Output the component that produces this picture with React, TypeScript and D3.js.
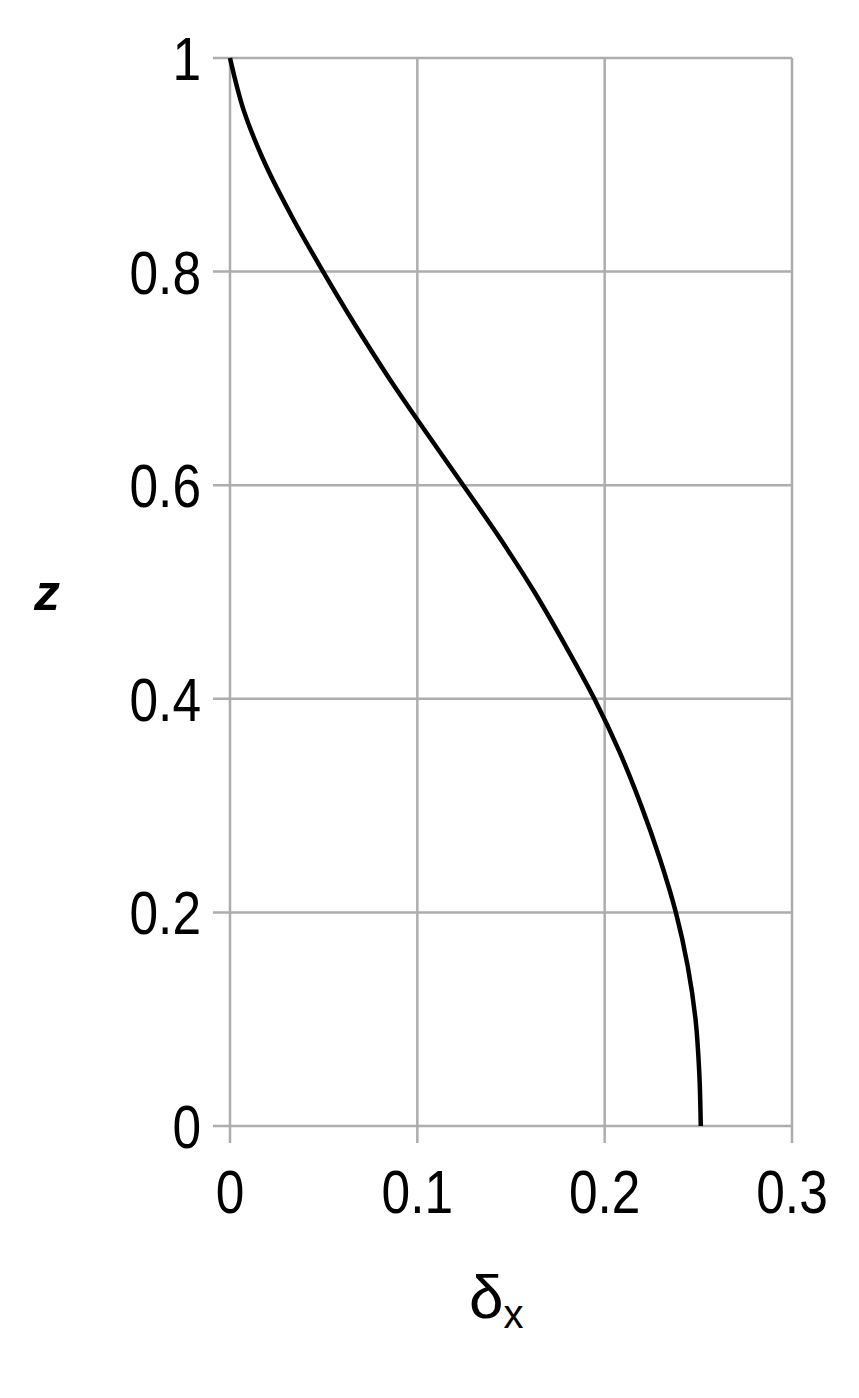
import React, { useEffect, useRef } from 'react'
import * as d3 from 'd3'

// z (height) and delta_x
const zValues = [1, 0.95, 0.9, 0.85, 0.8, 0.75, 0.7, 0.65, 0.6, 0.55, 0.5, 0.45, 0.4, 0.35, 0.3, 0.25, 0.2, 0.15, 0.1, 0.05, 0]
const deltaValues = [0, 0.0075, 0.019, 0.0335, 0.0497, 0.0668, 0.085, 0.1045, 0.1245, 0.1442, 0.1625, 0.179, 0.1945, 0.208, 0.2195, 0.2295, 0.238, 0.2443, 0.2485, 0.2505, 0.2513]

const xTicks = [0, 0.1, 0.2, 0.3]
const yTicks = [0, 0.2, 0.4, 0.6, 0.8, 1]
const xTickLabels = ['0', '0.1', '0.2', '0.3']
const yTickLabels = ['0', '0.2', '0.4', '0.6', '0.8', '1']

const width = 859
const height = 1398
const left = 230
const right = 792
const top = 58
const bottom = 1126
const tickLen = 17
const labelFont = '"Liberation Sans", Arial, sans-serif'
const squeeze = 0.83 // tick labels are a narrow face in the original

function drawChart(svgEl: SVGSVGElement) {
    const svg = d3.select(svgEl)
    svg.selectAll('*').remove()

    const x = d3.scaleLinear().domain([0, 0.3]).range([left, right])
    const y = d3.scaleLinear().domain([0, 1]).range([bottom, top])

    const grid = svg.append('g')
        .attr('stroke', '#adadad')
        .attr('stroke-width', 2.5)

    // vertical grid + ticks below
    grid.selectAll('line.v')
        .data(xTicks)
        .enter()
        .append('line')
        .attr('x1', d => x(d))
        .attr('x2', d => x(d))
        .attr('y1', top)
        .attr('y2', bottom + tickLen)

    // horizontal grid + ticks to the left
    grid.selectAll('line.h')
        .data(yTicks)
        .enter()
        .append('line')
        .attr('x1', left - tickLen)
        .attr('x2', right)
        .attr('y1', d => y(d))
        .attr('y2', d => y(d))

    svg.append('g')
        .selectAll('text')
        .data(xTicks)
        .enter()
        .append('text')
        .attr('transform', d => `translate(${x(d)},${bottom + 87}) scale(${squeeze},1)`)
        .attr('text-anchor', 'middle')
        .attr('font-family', labelFont)
        .attr('font-size', 62)
        .attr('fill', '#000')
        .text((d, i) => xTickLabels[i])

    svg.append('g')
        .selectAll('text')
        .data(yTicks)
        .enter()
        .append('text')
        .attr('transform', d => `translate(201,${y(d) + 22}) scale(${squeeze},1)`)
        .attr('text-anchor', 'end')
        .attr('font-family', labelFont)
        .attr('font-size', 62)
        .attr('fill', '#000')
        .text((d, i) => yTickLabels[i])

    const points = zValues.map((z, i) => [deltaValues[i], z] as [number, number])

    const line = d3.line<[number, number]>()
        .x(d => x(d[0]))
        .y(d => y(d[1]))
        .curve(d3.curveCatmullRom)

    svg.append('path')
        .datum(points)
        .attr('d', line)
        .attr('fill', 'none')
        .attr('stroke', '#000')
        .attr('stroke-width', 4.5)

    // axis titles
    svg.append('text')
        .attr('x', 47)
        .attr('y', 610)
        .attr('text-anchor', 'middle')
        .attr('font-family', '"Liberation Sans", Arial, sans-serif')
        .attr('font-size', 52)
        .attr('font-weight', 'bold')
        .attr('font-style', 'italic')
        .attr('fill', '#000')
        .text('z')

    const title = svg.append('text')
        .attr('x', 469)
        .attr('y', 1318)
        .attr('font-family', '"Liberation Sans", Arial, sans-serif')
        .attr('font-size', 62)
        .attr('fill', '#000')
    title.append('tspan').text('δ')
    title.append('tspan')
        .attr('font-size', 40)
        .attr('dy', 10)
        .text('x')
}

export default function App() {
    const ref = useRef<SVGSVGElement>(null)

    useEffect(() => {
        document.body.style.margin = '0'
        if (ref.current) drawChart(ref.current)
    }, [])

    return (
        <svg ref={ref} width={width} height={height} style={{ display: 'block', background: '#fff' }}></svg>
    )
}
